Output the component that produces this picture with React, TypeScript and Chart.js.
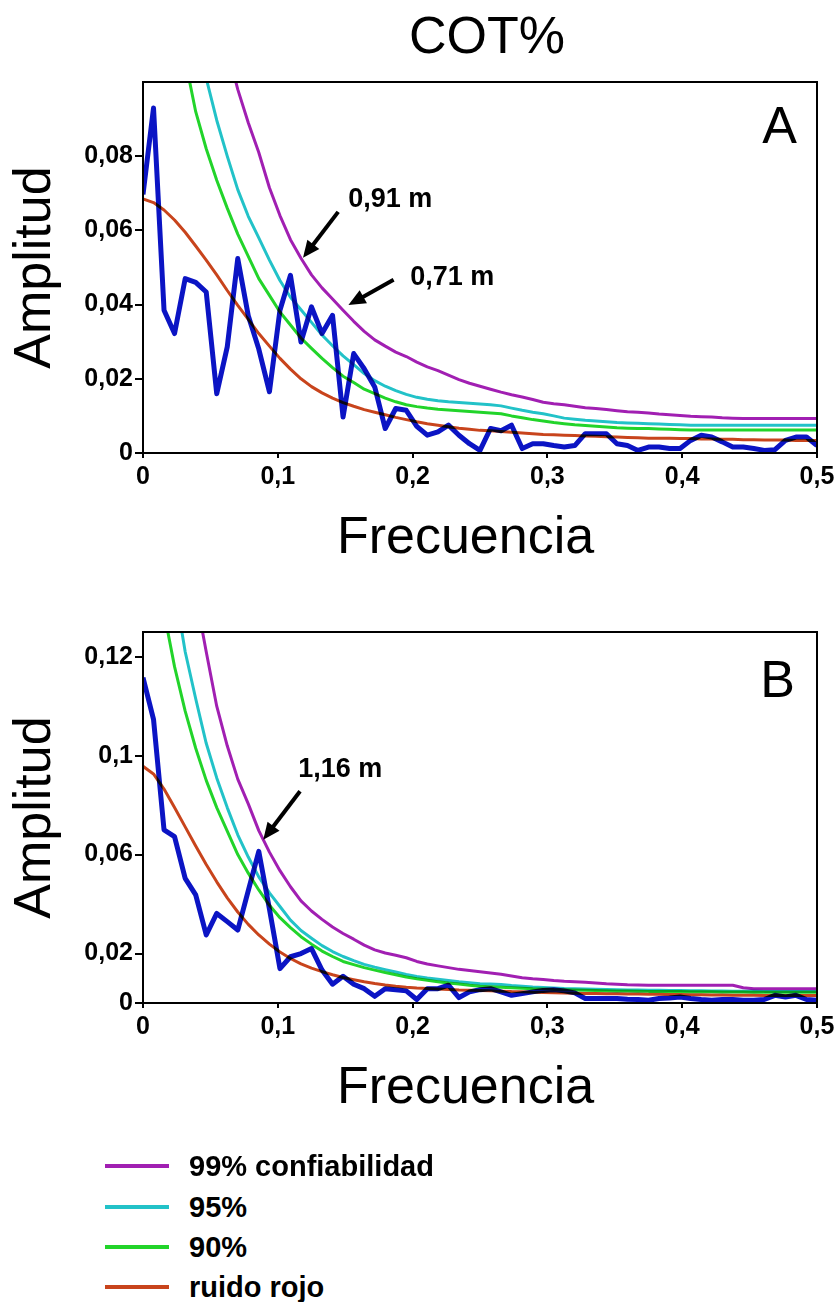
import React, { useEffect, useRef } from "react";
import { Chart, registerables } from "chart.js";

Chart.register(...registerables);

const FONT = "'Liberation Sans', Arial, Helvetica, sans-serif";

// ---------- data ----------
const frequencies = [
  0, 0.0078, 0.0156, 0.0234, 0.0313, 0.0391, 0.0469, 0.0547, 0.0625, 0.0703,
  0.0781, 0.0859, 0.0938, 0.1016, 0.1094, 0.1172, 0.125, 0.1328, 0.1406, 0.1484,
  0.1563, 0.1641, 0.1719, 0.1797, 0.1875, 0.1953, 0.2031, 0.2109, 0.2188, 0.2266,
  0.2344, 0.2422, 0.25, 0.2578, 0.2656, 0.2734, 0.2813, 0.2891, 0.2969, 0.3047,
  0.3125, 0.3203, 0.3281, 0.3359, 0.3438, 0.3516, 0.3594, 0.3672, 0.375, 0.3828,
  0.3906, 0.3984, 0.4063, 0.4141, 0.4219, 0.4297, 0.4375, 0.4453, 0.4531, 0.4609,
  0.4688, 0.4766, 0.4844, 0.4922, 0.5,
];

const xTickValues = [0, 0.1, 0.2, 0.3, 0.4, 0.5];
const xTickLabels = ["0", "0,1", "0,2", "0,3", "0,4", "0,5"];
const yTickValuesA = [0, 0.02, 0.04, 0.06, 0.08];
const yTickLabelsA = ["0", "0,02", "0,04", "0,06", "0,08"];
const yTickValuesB = [0, 0.02, 0.06, 0.1, 0.14];
const yTickLabelsB = ["0", "0,02", "0,06", "0,1", "0,12"];

const seriesNames = ["99% confiabilidad", "95%", "90%", "ruido rojo"];
const seriesColors = ["#a11fb2", "#22c2c8", "#22d42a", "#c8441c"];
const spectrumColor = "#0b14c4";

const amplitudeA = [
  0.0697, 0.093, 0.0385, 0.0322, 0.047, 0.046, 0.0434, 0.016, 0.0286, 0.0524,
  0.037, 0.028, 0.0165, 0.0385, 0.0479, 0.0299, 0.0394, 0.0322, 0.0371, 0.0097,
  0.0268, 0.0227, 0.0178, 0.0066, 0.012, 0.0115, 0.0072, 0.0048, 0.0057, 0.0075,
  0.0048, 0.0025, 0.0007, 0.0066, 0.006, 0.0075, 0.0012, 0.0025, 0.0025, 0.002,
  0.0016, 0.002, 0.0052, 0.0052, 0.0052, 0.0025, 0.002, 0.0007, 0.0016, 0.0016,
  0.0012, 0.0012, 0.0034, 0.0048, 0.0043, 0.003, 0.0016, 0.0016, 0.0012, 0.0007,
  0.0009, 0.0034, 0.0043, 0.0043, 0.002,
];
const conf99A = [
  0.4, 0.33, 0.27, 0.22, 0.185, 0.16, 0.14, 0.123, 0.109, 0.098,
  0.089, 0.081, 0.0715, 0.064, 0.0575, 0.0525, 0.048, 0.0445, 0.0415, 0.0385,
  0.0355, 0.0328, 0.0305, 0.0288, 0.0272, 0.026, 0.0245, 0.0232, 0.0222, 0.021,
  0.0198, 0.0188, 0.018, 0.0172, 0.0164, 0.0157, 0.0151, 0.0144, 0.0137, 0.0133,
  0.013, 0.0126, 0.0122, 0.012, 0.0117, 0.0114, 0.0111, 0.011, 0.0108, 0.0105,
  0.0103, 0.0101, 0.0099, 0.0098, 0.0097, 0.0095, 0.0094, 0.0093, 0.0093, 0.0093,
  0.0093, 0.0093, 0.0093, 0.0093, 0.0093,
];
const conf95A = [
  0.22, 0.19, 0.165, 0.145, 0.128, 0.114, 0.101, 0.0897, 0.08, 0.071,
  0.0638, 0.058, 0.052, 0.0465, 0.042, 0.0386, 0.0352, 0.0318, 0.0289, 0.0262,
  0.0238, 0.0214, 0.0195, 0.018, 0.0168, 0.0158, 0.015, 0.0145, 0.0141, 0.0138,
  0.0136, 0.0134, 0.0132, 0.013, 0.0127, 0.0121, 0.0115, 0.011, 0.0106, 0.01,
  0.0094, 0.0091, 0.0088, 0.0086, 0.0084, 0.0082, 0.0081, 0.008, 0.0079, 0.0078,
  0.0077, 0.0076, 0.0075, 0.0075, 0.0075, 0.0075, 0.0075, 0.0075, 0.0075, 0.0075,
  0.0075, 0.0075, 0.0075, 0.0075, 0.0075,
];
const conf90A = [
  0.19, 0.165, 0.145, 0.125, 0.106, 0.092, 0.082, 0.0735, 0.066, 0.059,
  0.053, 0.047, 0.0425, 0.038, 0.0345, 0.031, 0.0282, 0.0255, 0.023, 0.0207,
  0.019, 0.0172, 0.016, 0.0148, 0.0138, 0.013, 0.0125, 0.0121, 0.0118, 0.0116,
  0.0114, 0.0112, 0.011, 0.0108, 0.0106, 0.01, 0.0095, 0.009, 0.0086, 0.0082,
  0.0079, 0.0076, 0.0074, 0.0072, 0.007, 0.0068, 0.0067, 0.0066, 0.0066, 0.0065,
  0.0064, 0.0063, 0.0062, 0.0062, 0.0062, 0.0062, 0.0062, 0.0062, 0.0062, 0.0062,
  0.0062, 0.0062, 0.0062, 0.0062, 0.0062,
];
const redNoiseA = [
  0.0685, 0.0675, 0.0655, 0.0628, 0.0595, 0.0558, 0.052, 0.048, 0.0438, 0.0398,
  0.036, 0.0322, 0.0288, 0.0255, 0.0226, 0.02, 0.0179, 0.0162, 0.0148, 0.0136,
  0.0126, 0.0117, 0.011, 0.0103, 0.0096, 0.009, 0.0084, 0.0079, 0.0075, 0.0071,
  0.0067, 0.0064, 0.0061, 0.006, 0.0058, 0.0056, 0.0054, 0.0052, 0.005, 0.0049,
  0.0048, 0.0047, 0.0046, 0.0045, 0.0044, 0.0043, 0.0042, 0.0041, 0.004, 0.004,
  0.004, 0.0039, 0.0039, 0.0038, 0.0038, 0.0037, 0.0037, 0.0036, 0.0036, 0.0035,
  0.0035, 0.0035, 0.0034, 0.0034, 0.0034,
];

const amplitudeB = [
  0.1316, 0.1147, 0.07, 0.0673, 0.0504, 0.0437, 0.0275, 0.0362, 0.0329, 0.0295,
  0.0454, 0.0613, 0.038, 0.0139, 0.0187, 0.02, 0.022, 0.0133, 0.0076, 0.0108,
  0.0076, 0.0058, 0.0027, 0.0058, 0.0054, 0.0049, 0.0014, 0.0058, 0.0058, 0.0072,
  0.0022, 0.0045, 0.0054, 0.0058, 0.0045, 0.0031, 0.0038, 0.0045, 0.0051, 0.0054,
  0.0049, 0.0041, 0.0018, 0.0018, 0.0018, 0.0018, 0.0015, 0.0014, 0.0011, 0.0018,
  0.002, 0.0024, 0.0018, 0.0014, 0.0011, 0.0014, 0.0014, 0.0011, 0.0011, 0.0014,
  0.0031, 0.0024, 0.0031, 0.0014, 0.0011,
];
const conf99B = [
  0.4, 0.33, 0.27, 0.22, 0.19, 0.165, 0.142, 0.12, 0.104, 0.0905,
  0.0805, 0.0697, 0.061, 0.0535, 0.047, 0.0413, 0.0372, 0.0338, 0.0307, 0.0281,
  0.0258, 0.0234, 0.0215, 0.0202, 0.0193, 0.0183, 0.0168, 0.0158, 0.015, 0.0143,
  0.0136, 0.0131, 0.0126, 0.0121, 0.0116, 0.0109, 0.0102, 0.0098, 0.0095, 0.0091,
  0.0088, 0.0086, 0.0084, 0.0081, 0.0078, 0.0076, 0.0074, 0.0073, 0.0072, 0.0072,
  0.0072, 0.0072, 0.0072, 0.0072, 0.0072, 0.0072, 0.0072, 0.0062, 0.0058, 0.0058,
  0.0058, 0.0058, 0.0058, 0.0058, 0.0058,
];
const conf95B = [
  0.3, 0.24, 0.2, 0.168, 0.142, 0.123, 0.105, 0.091, 0.079, 0.068,
  0.059, 0.051, 0.0445, 0.039, 0.0335, 0.0293, 0.0262, 0.0232, 0.0208, 0.0188,
  0.0171, 0.0156, 0.0145, 0.0135, 0.0125, 0.0115, 0.0107, 0.0101, 0.0096, 0.0091,
  0.0086, 0.0082, 0.0078, 0.0077, 0.0075, 0.0071, 0.0068, 0.0065, 0.0063, 0.0061,
  0.0059, 0.0058, 0.0057, 0.0056, 0.0055, 0.0054, 0.0053, 0.0053, 0.0052, 0.0052,
  0.0051, 0.0051, 0.005, 0.005, 0.0049, 0.0049, 0.0048, 0.0048, 0.0048, 0.0047,
  0.0047, 0.0047, 0.0046, 0.0046, 0.0046,
];
const conf90B = [
  0.25, 0.2, 0.158, 0.136, 0.118, 0.103, 0.09, 0.079, 0.0695, 0.06,
  0.0525, 0.0457, 0.0395, 0.0345, 0.0305, 0.0268, 0.0238, 0.021, 0.0188, 0.0168,
  0.0155, 0.0143, 0.0133, 0.0123, 0.0114, 0.0105, 0.0098, 0.0092, 0.0086, 0.0081,
  0.0077, 0.0072, 0.0068, 0.0066, 0.0064, 0.0062, 0.006, 0.0058, 0.0057, 0.0055,
  0.0054, 0.0053, 0.0052, 0.0051, 0.005, 0.0049, 0.0049, 0.0048, 0.0047, 0.0047,
  0.0046, 0.0046, 0.0045, 0.0045, 0.0045, 0.0044, 0.0044, 0.0044, 0.0043, 0.0043,
  0.0043, 0.0043, 0.0043, 0.0043, 0.0043,
];
const redNoiseB = [
  0.0957, 0.0926, 0.0865, 0.079, 0.0712, 0.0635, 0.056, 0.049, 0.0425, 0.0368,
  0.0318, 0.0275, 0.0238, 0.0206, 0.018, 0.0158, 0.0141, 0.0127, 0.0114, 0.0103,
  0.0094, 0.0086, 0.0079, 0.0073, 0.0068, 0.0064, 0.0061, 0.0059, 0.0057, 0.0055,
  0.0053, 0.0052, 0.0051, 0.005, 0.0048, 0.0046, 0.0045, 0.0043, 0.0042, 0.0041,
  0.004, 0.0039, 0.0038, 0.0038, 0.0037, 0.0037, 0.0036, 0.0036, 0.0035, 0.0035,
  0.0034, 0.0034, 0.0033, 0.0033, 0.0032, 0.0032, 0.0031, 0.0031, 0.0031, 0.003,
  0.003, 0.003, 0.003, 0.003, 0.003,
];

// annotation anchors in data units (frequency, amplitude)
const annotationsA = [
  { text: "0,91 m", textAt: [0.1522, 0.0683], from: [0.1448, 0.065], to: [0.1187, 0.0526] },
  { text: "0,71 m", textAt: [0.1983, 0.0472], from: [0.1859, 0.0467], to: [0.1524, 0.0399] },
];
const annotationsB = [
  { text: "1,16 m", textAt: [0.1152, 0.0944], from: [0.1165, 0.0856], to: [0.0892, 0.066] },
];

// ---------- chart helpers ----------
type Annotation = { text: string; textAt: number[]; from: number[]; to: number[] };

type PanelProps = {
  top: number;
  height: number;
  padTop: number;
  xAxisHeight: number;
  xTitlePad: number;
  yMax: number;
  yTickValues: number[];
  yTickLabels: string[];
  amplitude: number[];
  conf99: number[];
  conf95: number[];
  conf90: number[];
  redNoise: number[];
  letter: string;
  letterBaseline: number;
  letterRight: number;
  annotations: Annotation[];
};

const panelDecor = {
  id: "panelDecor",
  beforeDatasetsDraw(chart: any) {
    chart.ctx.save();
    chart.ctx.globalCompositeOperation = "multiply";
  },
  afterDatasetsDraw(chart: any) {
    chart.ctx.restore();
  },
  afterDraw(chart: any, _args: any, opts: any) {
    const { ctx, chartArea: a } = chart;
    const xs = chart.scales.x;
    const ys = chart.scales.y;
    ctx.save();
    ctx.strokeStyle = "#000";
    ctx.lineWidth = 2;
    ctx.strokeRect(a.left, a.top, a.right - a.left, a.bottom - a.top);

    ctx.fillStyle = "#000";
    ctx.font = `52px ${FONT}`;
    ctx.textAlign = "right";
    ctx.textBaseline = "alphabetic";
    ctx.fillText(opts.letter, a.right - opts.letterRight, a.top + opts.letterBaseline);

    for (const an of opts.annotations as Annotation[]) {
      const tx = xs.getPixelForValue(an.textAt[0]);
      const ty = ys.getPixelForValue(an.textAt[1]);
      ctx.font = `bold 27px ${FONT}`;
      ctx.textAlign = "left";
      ctx.textBaseline = "middle";
      ctx.fillText(an.text, tx, ty);

      const x1 = xs.getPixelForValue(an.from[0]);
      const y1 = ys.getPixelForValue(an.from[1]);
      const x2 = xs.getPixelForValue(an.to[0]);
      const y2 = ys.getPixelForValue(an.to[1]);
      const ang = Math.atan2(y2 - y1, x2 - x1);
      const head = 17;
      const half = 7.5;
      const c = Math.cos(ang);
      const s = Math.sin(ang);
      const bx = x2 - head * c;
      const by = y2 - head * s;
      ctx.strokeStyle = "#000";
      ctx.lineWidth = 4;
      ctx.lineCap = "butt";
      ctx.beginPath();
      ctx.moveTo(x1, y1);
      ctx.lineTo(bx + 2 * c, by + 2 * s);
      ctx.stroke();
      ctx.beginPath();
      ctx.moveTo(x2, y2);
      ctx.lineTo(bx + half * s, by - half * c);
      ctx.lineTo(bx - half * s, by + half * c);
      ctx.closePath();
      ctx.fill();
    }
    ctx.restore();
  },
};

function toPoints(values: number[]) {
  return frequencies.map((f, i) => ({ x: f, y: values[i] }));
}

function buildConfig(p: PanelProps): any {
  const lineClip = { left: 0, top: 0, right: 0, bottom: 3 };
  const curve = (label: string, values: number[], color: string, width: number) => ({
    label,
    data: toPoints(values),
    borderColor: color,
    backgroundColor: color,
    borderWidth: width,
    pointRadius: 0,
    tension: 0,
    fill: false,
    clip: lineClip,
    borderJoinStyle: "round",
  });
  return {
    type: "line",
    data: {
      datasets: [
        curve(seriesNames[3], p.redNoise, seriesColors[3], 3),
        curve(seriesNames[2], p.conf90, seriesColors[2], 3),
        curve(seriesNames[1], p.conf95, seriesColors[1], 3),
        curve(seriesNames[0], p.conf99, seriesColors[0], 3),
        curve("Amplitud", p.amplitude, spectrumColor, 5),
      ],
    },
    options: {
      animation: false,
      responsive: false,
      events: [],
      layout: { padding: { top: p.padTop, right: 23, bottom: 0, left: 0 } },
      plugins: {
        legend: { display: false },
        tooltip: { enabled: false },
        title: { display: false },
        panelDecor: {
          letter: p.letter,
          letterBaseline: p.letterBaseline,
          letterRight: p.letterRight,
          annotations: p.annotations,
        },
      },
      scales: {
        x: {
          type: "linear",
          min: 0,
          max: 0.5,
          afterBuildTicks: (s: any) => {
            s.ticks = xTickValues.map((v) => ({ value: v }));
          },
          afterFit: (s: any) => {
            s.height = p.xAxisHeight;
          },
          ticks: {
            callback: (v: number) => {
              const i = xTickValues.indexOf(v);
              return i >= 0 ? xTickLabels[i] : "";
            },
            font: { family: FONT, size: 25, weight: "bold" },
            color: "#000",
            padding: 4,
            maxRotation: 0,
            autoSkip: false,
          },
          grid: { drawOnChartArea: false, drawTicks: true, tickLength: 5, color: "#000", lineWidth: 2 },
          border: { display: false },
          title: {
            display: true,
            text: "Frecuencia  ",
            color: "#000",
            font: { family: FONT, size: 52, weight: "normal" },
            padding: { top: 0, bottom: p.xTitlePad },
          },
        },
        y: {
          type: "linear",
          min: 0,
          max: p.yMax,
          afterBuildTicks: (s: any) => {
            s.ticks = p.yTickValues.map((v) => ({ value: v }));
          },
          afterFit: (s: any) => {
            s.width = 143;
          },
          ticks: {
            callback: (v: number) => {
              const i = p.yTickValues.indexOf(v);
              return i >= 0 ? p.yTickLabels[i] : "";
            },
            font: { family: FONT, size: 25, weight: "bold" },
            color: "#000",
            padding: 2,
            autoSkip: false,
          },
          grid: { drawOnChartArea: false, drawTicks: true, tickLength: 8, color: "#000", lineWidth: 2 },
          border: { display: false },
          title: {
            display: true,
            text: "Amplitud",
            color: "#000",
            font: { family: FONT, size: 52, weight: "normal" },
            padding: { top: 4, bottom: 0 },
          },
        },
      },
    },
    plugins: [panelDecor],
  };
}

function PanelChart(props: PanelProps) {
  const ref = useRef<HTMLCanvasElement>(null);
  useEffect(() => {
    const canvas = ref.current;
    if (!canvas) return;
    const chart = new Chart(canvas, buildConfig(props));
    return () => chart.destroy();
  }, []);
  return (
    <canvas
      ref={ref}
      width={840}
      height={props.height}
      style={{ position: "absolute", left: 0, top: props.top, width: 840, height: props.height, display: "block" }}
    />
  );
}

const legendRows = [
  { name: seriesNames[0], color: seriesColors[0], center: 1166 },
  { name: seriesNames[1], color: seriesColors[1], center: 1207 },
  { name: seriesNames[2], color: seriesColors[2], center: 1247 },
  { name: seriesNames[3], color: seriesColors[3], center: 1287 },
];

export default function App() {
  return (
    <div
      style={{
        position: "absolute",
        left: 0,
        top: 0,
        width: 840,
        height: 1302,
        background: "#fff",
        overflow: "hidden",
        fontFamily: FONT,
      }}
    >
      <div
        style={{
          position: "absolute",
          left: 0,
          top: 9,
          width: 974,
          textAlign: "center",
          fontSize: 52,
          lineHeight: "52px",
          color: "#000",
        }}
      >
        COT%
      </div>
      <PanelChart
        top={0}
        height={590}
        padTop={82}
        xAxisHeight={137}
        xTitlePad={20}
        yMax={0.1}
        yTickValues={yTickValuesA}
        yTickLabels={yTickLabelsA}
        amplitude={amplitudeA}
        conf99={conf99A}
        conf95={conf95A}
        conf90={conf90A}
        redNoise={redNoiseA}
        letter="A"
        letterBaseline={61}
        letterRight={20}
        annotations={annotationsA}
      />
      <PanelChart
        top={590}
        height={560}
        padTop={42}
        xAxisHeight={147}
        xTitlePad={30}
        yMax={0.15}
        yTickValues={yTickValuesB}
        yTickLabels={yTickLabelsB}
        amplitude={amplitudeB}
        conf99={conf99B}
        conf95={conf95B}
        conf90={conf90B}
        redNoise={redNoiseB}
        letter="B"
        letterBaseline={65}
        letterRight={22}
        annotations={annotationsB}
      />
      {legendRows.map((r) => (
        <React.Fragment key={r.name}>
          <div
            style={{
              position: "absolute",
              left: 105,
              top: r.center - 2,
              width: 64,
              height: 4,
              background: r.color,
            }}
          />
          <div
            style={{
              position: "absolute",
              left: 189,
              top: r.center - 17,
              height: 34,
              lineHeight: "34px",
              fontSize: 29,
              fontWeight: "bold",
              color: "#000",
              whiteSpace: "nowrap",
            }}
          >
            {r.name}
          </div>
        </React.Fragment>
      ))}
    </div>
  );
}
